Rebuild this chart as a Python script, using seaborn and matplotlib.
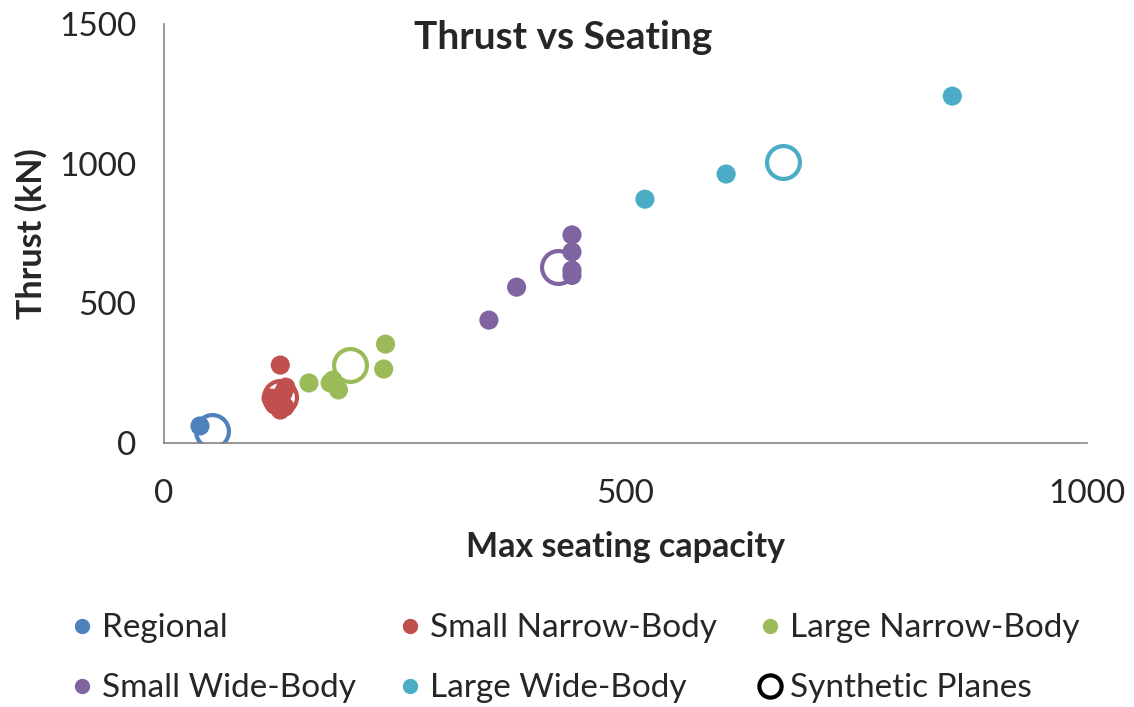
import matplotlib
matplotlib.use("Agg")
import matplotlib.pyplot as plt
from matplotlib.lines import Line2D
import seaborn as sns
import pandas as pd

categories = ["Regional", "Small Narrow-Body", "Large Narrow-Body", "Small Wide-Body", "Large Wide-Body"]
colors = ["#4F81BD", "#C0504D", "#9BBB59", "#8064A2", "#4BACC6"]

regional_seats = [39]
regional_thrust = [61]
snb_seats = [126, 132, 116, 120, 126, 131, 124, 129, 122]
snb_thrust = [279, 200, 161, 136, 118, 129, 150, 179, 145]
lnb_seats = [157, 180, 183, 189, 238, 240]
lnb_thrust = [215, 215, 225, 190, 265, 354]
swb_seats = [352, 382, 442, 442, 442, 442]
swb_thrust = [440, 558, 745, 684, 619, 600]
lwb_seats = [521, 609, 854]
lwb_thrust = [873, 963, 1242]

synth_seats = [52, 126, 201, 427, 671]
synth_thrust = [43, 165, 279, 630, 1006]

rows = []
for cat, xs, ys in zip(categories,
                       [regional_seats, snb_seats, lnb_seats, swb_seats, lwb_seats],
                       [regional_thrust, snb_thrust, lnb_thrust, swb_thrust, lwb_thrust]):
    for x, y in zip(xs, ys):
        rows.append({"seats": x, "thrust": y, "cat": cat})
df = pd.DataFrame(rows)
syn = pd.DataFrame({"seats": synth_seats, "thrust": synth_thrust, "cat": categories})

sns.set_style("white")
plt.rcParams["font.family"] = ["Lato", "DejaVu Sans"]

fig = plt.figure(figsize=(11.34, 7.07), dpi=100)
ax = fig.add_axes([0.1446, 0.3734, 0.814, 0.5926])

pal = dict(zip(categories, colors))
sns.scatterplot(data=df, x="seats", y="thrust", hue="cat", palette=pal, s=190,
                linewidth=0, legend=False, ax=ax, zorder=3)
for _, r in syn.iterrows():
    ax.scatter(r["seats"], r["thrust"], s=560, facecolors="white", edgecolors=pal[r["cat"]],
               linewidths=3, zorder=2)

ax.set_xlim(0, 1000)
ax.set_ylim(0, 1500)
ax.set_xticks([0, 500, 1000])
ax.set_yticks([0, 500, 1000, 1500])
ax.tick_params(axis="both", labelsize=24, length=6, width=1, color="#868686", direction="out")
ax.tick_params(axis="x", pad=20)
ax.tick_params(axis="y", pad=14)
for s in ["top", "right"]:
    ax.spines[s].set_visible(False)
for s in ["left", "bottom"]:
    ax.spines[s].set_color("#868686")
    ax.spines[s].set_linewidth(1.2)
ax.grid(False)

ax.set_xlabel("Max seating capacity", fontsize=24.5, fontweight="bold", labelpad=16)
ax.set_ylabel("Thrust (kN)", fontsize=24.5, fontweight="bold", labelpad=8)
fig.text(0.497, 0.947, "Thrust vs Seating", fontsize=28, fontweight="bold", ha="center", va="center")

handles = [Line2D([], [], marker="o", ls="", color=c, markersize=10) for c in colors]
handles.append(Line2D([], [], marker="o", ls="", markerfacecolor="white", markeredgecolor="black",
                      markeredgewidth=3, markersize=16))
labels = categories + ["Synthetic Planes"]
order = [0, 3, 1, 4, 2, 5]
fig.legend([handles[i] for i in order], [labels[i] for i in order], ncol=3,
           loc="center left", bbox_to_anchor=(0.058, 0.069), frameon=False, fontsize=24,
           handletextpad=0.1, columnspacing=1.1, labelspacing=0.9, handlelength=1.0,
           borderaxespad=0, borderpad=0)

fig.savefig("out.png", dpi=100)
